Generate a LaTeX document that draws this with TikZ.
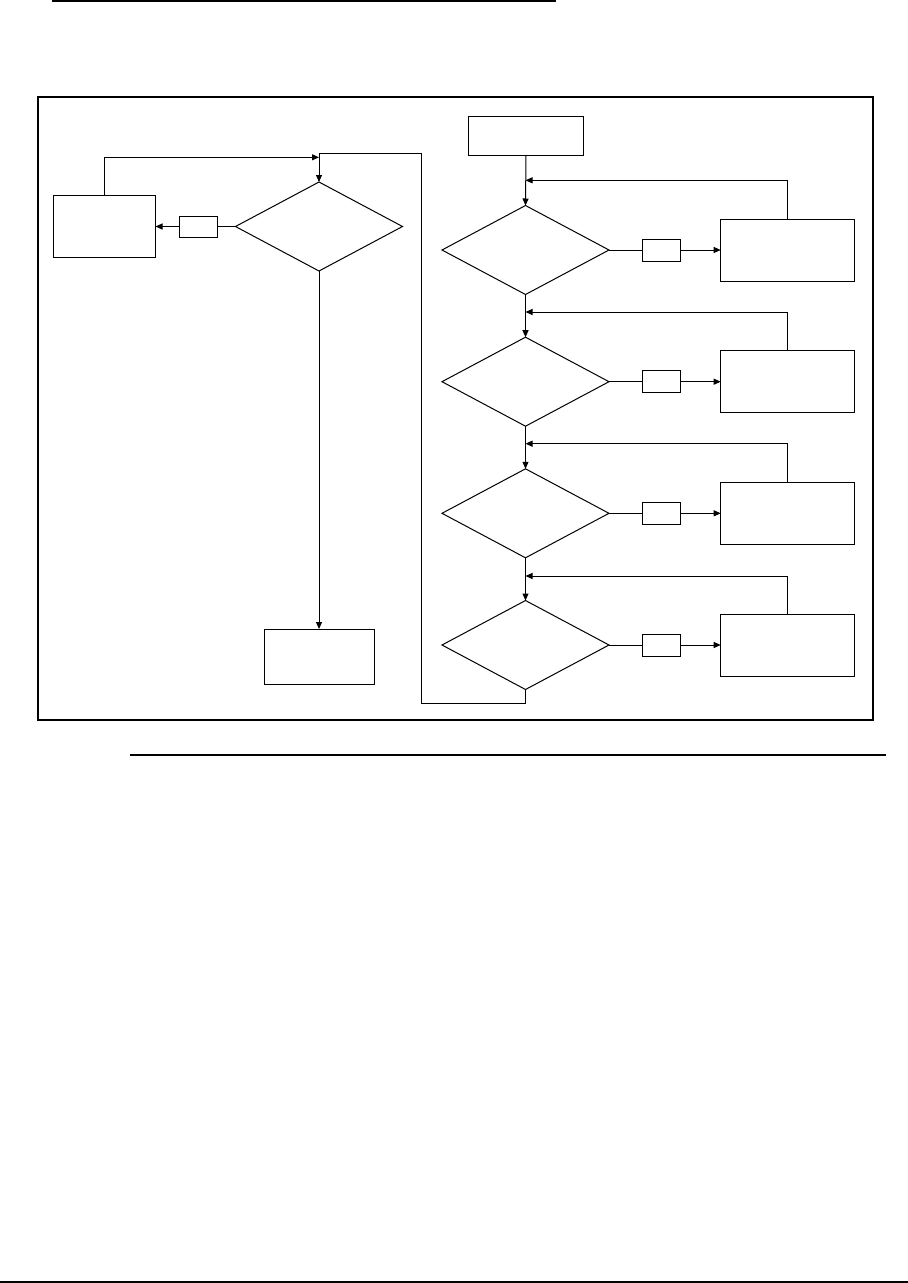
\documentclass[tikz,border=0pt]{standalone}
\usetikzlibrary{arrows.meta,shapes.geometric}
\begin{document}
\begin{tikzpicture}[x=1pt,y=-1pt,
  ln/.style={line width=1pt},
  arr/.style={ln,-{Triangle[length=7pt,width=6pt]}},
  boxr/.style={draw,ln,rectangle,inner sep=0pt,outer sep=0pt},
  dia/.style={draw,ln,diamond,inner sep=0pt,outer sep=0pt,minimum width=167pt,minimum height=89pt},
  tag/.style={boxr,minimum width=38pt,minimum height=22pt},
  bigbox/.style={boxr,minimum width=134pt,minimum height=62pt}]
\useasboundingbox (0,0) rectangle (908,1283);
% page rules
\coordinate (t1) at (52,1); \coordinate (t2) at (556,1);
\draw[line width=2pt] (t1) -- (t2);
\coordinate (m1) at (130,755); \coordinate (m2) at (886,755);
\draw[line width=1.5pt] (m1) -- (m2);
\coordinate (b1) at (0,1281.5); \coordinate (b2) at (908,1281.5);
\draw[line width=2pt] (b1) -- (b2);
% frame
\node[draw,line width=2.5pt,rectangle,inner sep=0pt,minimum width=835pt,minimum height=623pt] (frame) at (455.5,408.5) {};
% left part
\node[dia] (LD) at (319,226.5) {};
\node[boxr,minimum width=102pt,minimum height=62pt] (LB) at (104.5,226.5) {};
\node[tag,minimum width=38.4pt,minimum height=21pt] (SL) at (198.5,226.5) {};
\node[boxr,minimum width=110pt,minimum height=55pt] (BB) at (319,656.5) {};
% right part
\node[boxr,minimum width=115pt,minimum height=39pt] (S) at (526,135.5) {};
\foreach \i/\y in {1/250,2/381.7,3/513.3,4/645} {
  \node[dia] (D\i) at (525.5,\y) {};
  \node[tag] (T\i) at (661.5,\y) {};
  \node[bigbox] (R\i) at (787.7,\y) {};
}
% connectors right
\draw[arr] (S.south) -- (D1.north);
\draw[arr] (D1.south) -- (D2.north);
\draw[arr] (D2.south) -- (D3.north);
\draw[arr] (D3.south) -- (D4.north);
\foreach \i/\f in {1/180.3,2/312,3/443.7,4/576} {
  \draw[ln] (D\i.east) -- (T\i.west);
  \draw[arr] (T\i.east) -- (R\i.west);
  \coordinate (F\i) at (525.5,\f);
  \draw[arr] (R\i.north) |- (F\i);
}
% loop from bottom diamond back to left diamond
\coordinate (c1) at (525.5,703.3);
\coordinate (c2) at (421.7,703.3);
\coordinate (c3) at (421.7,153);
\coordinate (c4) at (319,153);
\draw[ln] (D4.south) -- (c1) -- (c2) -- (c3) -- (c4);
\draw[arr] (c4) -- (LD.north);
% left connectors
\draw[ln] (LD.west) -- (SL.east);
\draw[arr] (SL.west) -- (LB.east);
\coordinate (j2) at (319,157.3);
\draw[arr] (LB.north) |- (j2);
\draw[arr] (LD.south) -- (BB.north);
\end{tikzpicture}
\end{document}
